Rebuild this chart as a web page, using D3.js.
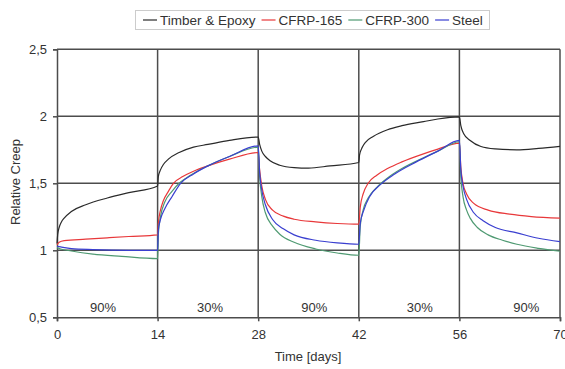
<!DOCTYPE html>
<html><head><meta charset="utf-8">
<script src="https://cdn.jsdelivr.net/npm/d3@7"></script>
<style>
body{margin:0;background:#fff;}
text{font-family:"Liberation Sans",Arial,sans-serif;fill:#333;}
</style></head>
<body><svg id="c" width="565" height="369"></svg>
<script>
const seriesNames = ["Timber & Epoxy", "CFRP-165", "CFRP-300", "Steel"];
const seriesColors = ["#2a2a2a", "#e8383a", "#4f9a72", "#3a3fd0"];

const timber = [[0,1.05],[0.1,1.12],[0.3,1.17],[0.6,1.21],[1,1.24],[2,1.29],[4,1.34],[7,1.39],[10,1.43],[14,1.48],
 [14.1,1.55],[14.4,1.6],[14.8,1.64],[15.5,1.68],[17,1.73],[19,1.77],[21,1.79],[24,1.82],[28,1.845],
 [28.2,1.79],[28.5,1.74],[29,1.7],[29.6,1.67],[31,1.635],[33,1.617],[35,1.613],[38,1.63],[42,1.655],
 [42.1,1.71],[42.5,1.77],[43,1.81],[44,1.85],[46,1.9],[48,1.93],[51,1.96],[53,1.98],[56,1.995],
 [56.2,1.93],[56.6,1.87],[57.5,1.82],[59,1.775],[61,1.757],[64,1.75],[67,1.76],[70,1.775]];

const cfrp165 = [[0,1.04],[0.3,1.06],[1,1.072],[4,1.083],[7,1.093],[10,1.103],[14,1.115],
 [14.1,1.2],[14.4,1.3],[14.8,1.37],[15.5,1.44],[16.2,1.5],[17.5,1.55],[19,1.59],[21,1.63],[24,1.68],[28,1.73],
 [28.2,1.6],[28.5,1.48],[29,1.38],[30,1.3],[31.5,1.255],[33,1.232],[36,1.212],[39,1.2],[42,1.195],
 [42.2,1.32],[42.6,1.42],[43.3,1.5],[44.5,1.56],[46,1.61],[48,1.66],[51,1.72],[53,1.755],[56,1.8],
 [56.2,1.62],[56.5,1.5],[57,1.42],[58,1.35],[60,1.3],[63,1.27],[66,1.252],[70,1.24]];

const cfrp300 = [[0,1.02],[0.5,1.01],[2,0.995],[5,0.972],[9,0.955],[14,0.938],
 [14.1,1.12],[14.4,1.25],[15,1.36],[16,1.44],[17,1.5],[18,1.54],[21,1.63],[24,1.7],[28,1.77],
 [28.2,1.55],[28.5,1.4],[29,1.28],[30,1.18],[31,1.12],[33,1.06],[36,1.01],[39,0.98],[42,0.963],
 [42.2,1.18],[42.6,1.3],[43.3,1.39],[44.5,1.47],[46,1.54],[48,1.61],[51,1.69],[53,1.74],[56,1.81],
 [56.2,1.55],[56.5,1.4],[57,1.3],[57.5,1.24],[58.5,1.17],[60,1.115],[62,1.075],[64,1.045],[67,1.015],[70,0.993]];

const steel = [[0,1.03],[0.5,1.025],[2,1.012],[5,1.005],[10,1.0],[14,1.0],
 [14.1,1.15],[14.4,1.23],[15,1.31],[16,1.4],[17.2,1.5],[19,1.57],[21,1.63],[24,1.7],[28,1.78],
 [28.2,1.58],[28.5,1.45],[29,1.34],[30,1.23],[31.5,1.16],[33,1.115],[36,1.075],[39,1.055],[42,1.045],
 [42.2,1.2],[42.7,1.3],[43.5,1.4],[45,1.49],[47,1.57],[50,1.66],[53,1.74],[56,1.82],
 [56.2,1.6],[56.5,1.48],[57,1.38],[58,1.28],[59.3,1.22],[61,1.17],[64,1.13],[67,1.09],[70,1.065]];

const xTicks = [0, 14, 28, 42, 56, 70];
const yTicks = [0.5, 1, 1.5, 2, 2.5];
const loadLabels = ["90%", "30%", "90%", "30%", "90%"];
const loadLabelDays = [6.4, 21.3, 35.8, 50.5, 65.3];

const allSeries = [timber, cfrp165, cfrp300, steel];

const svg = d3.select("#c");
const x = d3.scaleLinear().domain([0, 70]).range([57, 560]);
const y = d3.scaleLinear().domain([0.5, 2.5]).range([317.3, 49.3]);
const fmt = d => String(d).replace(".", ",");

// grid
svg.append("g").selectAll("line").data(yTicks.slice(1)).join("line")
  .attr("x1", x(0)).attr("x2", x(70)).attr("y1", d => y(d)).attr("y2", d => y(d))
  .attr("stroke", "#4d4d4d").attr("stroke-width", 1.5);
svg.append("g").selectAll("line").data(xTicks.slice(1)).join("line")
  .attr("x1", d => x(d)).attr("x2", d => x(d)).attr("y1", y(0.5)).attr("y2", y(2.5))
  .attr("stroke", "#4d4d4d").attr("stroke-width", 1.5);

// axes
const xAxis = svg.append("g").attr("transform", `translate(0,${y(0.5)})`)
  .call(d3.axisBottom(x).tickValues(xTicks).tickSize(4).tickPadding(8).tickFormat(d => d));
const yAxis = svg.append("g").attr("transform", `translate(${x(0)},0)`)
  .call(d3.axisLeft(y).tickValues(yTicks).tickSize(4).tickPadding(6).tickFormat(fmt));
[xAxis, yAxis].forEach(a => {
  a.select(".domain").attr("stroke", "#4d4d4d").attr("stroke-width", 1.5);
  a.selectAll(".tick line").attr("stroke", "#4d4d4d").attr("stroke-width", 1.5);
  a.selectAll(".tick text").attr("font-size", 13).attr("fill", "#444")
    .attr("font-family", '"Liberation Sans",Arial,sans-serif');
});

// lines
const line = d3.line().x(d => x(d[0])).y(d => y(d[1])).curve(d3.curveMonotoneX);
allSeries.forEach((s, i) => {
  svg.append("path").datum(s).attr("d", line).attr("fill", "none")
    .attr("stroke", seriesColors[i]).attr("stroke-width", 1.2);
});

// load labels
svg.append("g").selectAll("text").data(loadLabels).join("text")
  .attr("x", (d, i) => x(loadLabelDays[i])).attr("y", 312)
  .attr("text-anchor", "middle").attr("font-size", 13).attr("fill", "#444").text(d => d);

// axis titles
svg.append("text").attr("x", 308).attr("y", 361).attr("text-anchor", "middle")
  .attr("font-size", 13).attr("fill", "#333").text("Time [days]");
svg.append("text").attr("transform", "translate(20,182) rotate(-90)").attr("text-anchor", "middle")
  .attr("font-size", 13).attr("fill", "#333").text("Relative Creep");

// legend
const lg = svg.append("g");
lg.append("rect").attr("x", 135.5).attr("y", 10.5).attr("width", 354).attr("height", 19)
  .attr("fill", "#fff").attr("stroke", "#ccc");
let lx = 143;
seriesNames.forEach((n, i) => {
  lg.append("line").attr("x1", lx).attr("x2", lx + 14).attr("y1", 20).attr("y2", 20)
    .attr("stroke", seriesColors[i]).attr("stroke-width", 1.2);
  const t = lg.append("text").attr("x", lx + 17).attr("y", 24.5).attr("font-size", 13.5)
    .attr("fill", "#333").text(n);
  lx += 17 + t.node().getComputedTextLength() + 6;
});
</script></body></html>
